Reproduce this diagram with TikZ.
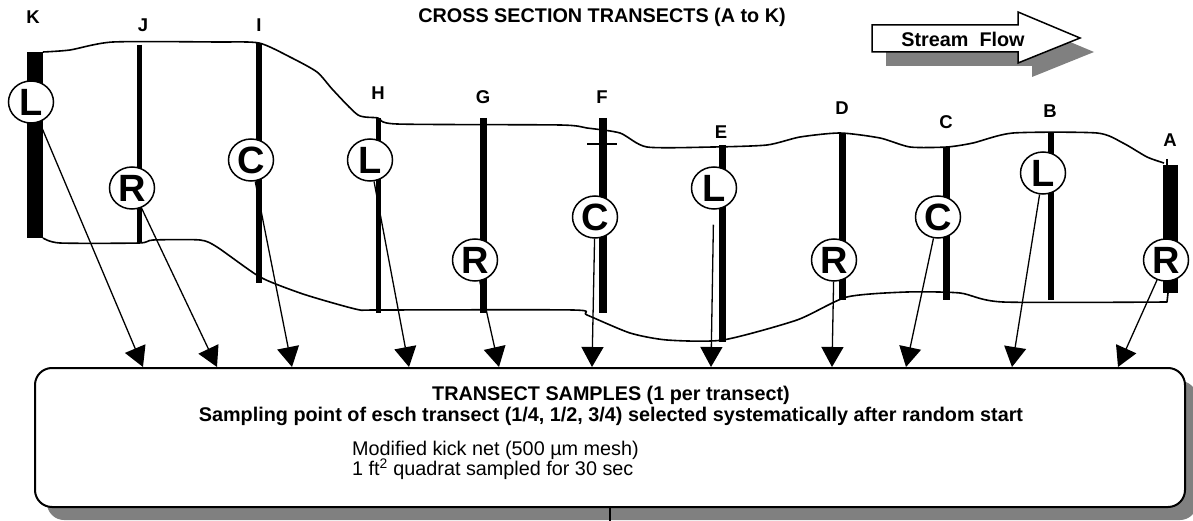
\documentclass[tikz,border=0pt]{standalone}
\usepackage{fontspec}
\setmainfont{Liberation Sans}
\usetikzlibrary{positioning,shapes.geometric,arrows.meta,shadows}

\begin{document}
\begin{tikzpicture}[x=1pt, y=-1pt,
	every node/.style={font=\fontsize{19.8}{22}\selectfont\bfseries,
                        inner sep=0pt
                        },
	bank/.style={line width=1.6pt, line join=round},
	samp/.style={draw, ellipse, fill=white,
                 line width=1.5pt,
                 minimum width=45pt, minimum height=42pt,
                 font=\fontsize{38}{38}\selectfont\bfseries
    },
	arr/.style={line width=1.3pt, -{Triangle[width=22pt, length=20pt]}},
	lbl/.style={font=\fontsize{18.5}{18.5}\selectfont\bfseries},
	plain/.style={font=\fontsize{19.8}{22}\selectfont}
]
	\useasboundingbox (0,0) rectangle (1193,521);
    % title and flow arrow
	\node (title) at (602,17) {CROSS SECTION TRANSECTS (A to K)};
    \fill[black!50] (886,39) -- (1032,39) -- (1032,26) -- (1094,52) -- (1032,77) -- (1032,66) -- (886,66) -- cycle;
    \draw[fill=white, line width=1.5pt] (872,25) -- (1018,25) -- (1018,12) -- (1080,38) -- (1018,63) -- (1018,52) -- (872,52) -- cycle;
    \node (flow) at (963,39) {Stream\ \ Flow};
    % stream banks
    \draw[bank] plot[smooth, tension=0.4] coordinates {(43,52) (70,50) (113,42) (217,42) (259,43) (290,57) (317,72) (333,90) (358,115) (378,118) (397,124) (560,125) (587,128) (620,133) (647,147) (713,147) (767,145) (800,137) (840,133) (880,138) (910,147) (947,147) (973,143) (1013,133) (1097,133) (1123,143) (1147,157) (1164,163)};
    \draw[bank] plot[smooth, tension=0.4] coordinates {(43,238) (60,243) (139,243) (153,240) (200,240) (217,247) (260,277) (300,293) (333,303) (360,310) (378,310) (573,310) (587,315) (630,333) (667,340) (723,340) (797,320) (847,297) (907,292) (960,293) (1003,302) (1167,302)} -- (1168,293);
    % transects
    \foreach \x/\t/\b/\w in {35/52/238/16, 139/45/243/5, 259/43/283/5.5, 378/118/313/5, 483/118/313/7, 603/118/313/8, 722/145/342/7, 842/133/300/7, 946/147/300/7, 1051/133/300/5.5, 1170.5/165/293/15}
    	\draw[line width=\w pt] (\x,\t) -- (\x,\b);
    \draw[line width=2pt] (1167,159) -- (1167,166);
    \draw[line width=1.2pt] (587,144) -- (617,144);
    \foreach \n/\x/\y in {K/33/17, J/143/25, I/259/25, H/378/93, G/483/97, F/602/97, E/721/132, D/842/108, C/946/122, B/1050/111, A/1170/140}
    	\node[lbl] (lab\n) at (\x,\y) {\n};
    % samples box
    \node (samples) [draw, rounded corners=17pt, line width=2pt, fill=white,
    	minimum width=1150pt, minimum height=139pt,
        drop shadow={shadow xshift=12pt, shadow yshift=-13pt, fill=black!50, opacity=1}] at (610,437.5) {};
    \draw[line width=1.5pt] (samples.south) -- ++(0,16);
    \node (head) at (611,395) {TRANSECT SAMPLES (1 per transect)};
    \node (rule) at (611,416) {Sampling point of esch transect (1/4, 1/2, 3/4) selected systematically after random start};
    \node (kick) [plain, anchor=west] at (352,450) {Modified kick net (500 µm mesh)};
    \node (quad) [plain, anchor=west] at (352,469) {1 ft\textsuperscript{2} quadrat sampled for 30 sec};
    % sampling points
    \node[samp] (sK) at (31,102) {L};
    \node[samp] (sJ) at (132,188) {R};
    \node[samp] (sI) at (251,160) {C};
    \node[samp] (sH) at (370,160) {L};
    \node[samp] (sG) at (475,260) {R};
    \node[samp] (sF) at (595,217) {C};
    \node[samp] (sE) at (714,188) {L};
    \node[samp] (sD) at (834,260) {R};
    \node[samp] (sC) at (938,217) {C};
    \node[samp] (sB) at (1043,173) {L};
    \node[samp] (sA) at (1166,260) {R};
    \foreach \n/\x in {K/143, J/217, I/292, H/409, G/499, F/592, E/711, D/832, C/906, B/1012, A/1118}
    	\coordinate (t\n) at (\x,367);
    \foreach \n in {K,J,I,H,G,F,D,C,B,A}
    	\draw[arr] (s\n) -- (t\n);
    \draw[arr, shorten <=15pt] (sE) -- (tE);
\end{tikzpicture}
\end{document}
